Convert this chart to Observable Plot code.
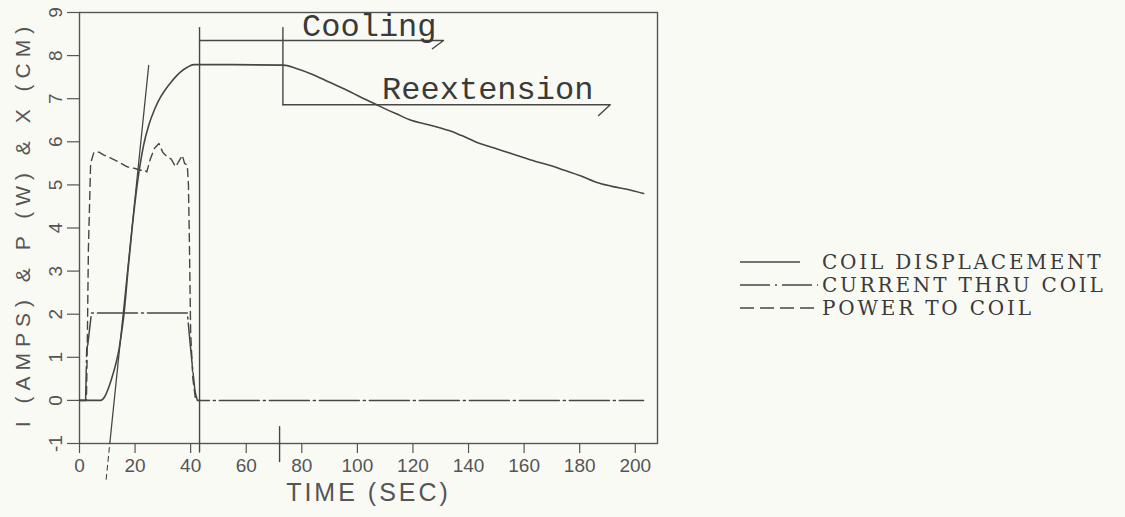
<!DOCTYPE html>
<html>
<head>
<meta charset="utf-8">
<script src="https://cdn.jsdelivr.net/npm/d3@7"></script>
<script src="https://cdn.jsdelivr.net/npm/@observablehq/plot@0.6"></script>
<style>
  body { margin: 0; background: #fafaf5; }
  #wrap { position: relative; width: 1125px; height: 517px; background: #fafaf5; }
  .ytitle { letter-spacing: 6px; }
  .xtitle { letter-spacing: 3px; }
</style>
</head>
<body>
<div id="wrap"></div>
<script>
// Coil displacement X (cm) against time (s)
const dispTime = [0, 7.6, 9, 10.5, 12, 13.2, 14.2, 15.2, 16, 17.5, 19, 21.4, 23, 25, 27, 29.2, 31, 32.8, 34.5, 36.4, 38.8, 41.2, 43, 55, 73.4,
  78, 83.2, 90, 97.7, 103, 108.5, 114, 119.3, 124, 128.9, 133, 137.3, 143.3, 149, 155.3, 160, 164.9, 170, 174.5, 180, 186.6, 192, 197, 203];
const dispValue = [0, 0, 0.08, 0.3, 0.6, 0.88, 1.18, 1.6, 2.0, 3.05, 4.03, 5.3, 5.9, 6.4, 6.75, 7.04, 7.22, 7.37, 7.5, 7.62, 7.73, 7.79, 7.79, 7.79, 7.78,
  7.7, 7.58, 7.38, 7.15, 6.98, 6.81, 6.65, 6.5, 6.42, 6.34, 6.26, 6.15, 5.98, 5.86, 5.73, 5.63, 5.53, 5.44, 5.34, 5.22, 5.05, 4.96, 4.9, 4.8];

// Current through coil I (A)
const currTime = [0, 2.2, 2.6, 3.0, 4.3, 38.8, 39.7, 40.6, 41.6, 42.4, 203];
const currValue = [0, 0, 1.2, 1.3, 2.03, 2.03, 1.4, 0.8, 0.2, 0, 0];

// Power to coil P (W)
const powTime = [0, 2.5, 2.8, 3.2, 4, 5.2, 7, 8.8, 12, 15, 17.2, 20, 22, 23.3, 24.2, 25.5, 27, 28.6, 30, 31.6, 33, 34.6, 35.8, 37, 37.8, 38.8, 39.2, 39.5, 40, 40.8, 41.8, 43];
const powValue = [0, 0, 1.3, 3.5, 5.5, 5.76, 5.76, 5.69, 5.6, 5.5, 5.42, 5.38, 5.34, 5.35, 5.3, 5.6, 5.85, 5.96, 5.75, 5.65, 5.6, 5.42, 5.55, 5.69, 5.5, 5.46, 5.0, 3.88, 1.57, 0.5, 0, 0];

// Tangent drawn to the rising displacement curve
const tangentTime = [9.6, 10.9, 24.9];
const tangentValue = [-1.83, -1, 7.77];

// Phase markers: cooling starts at ~43 s, reextension at ~73 s
const coolingTime = [43.2, 43.2];
const coolingSpan = [-1.2, 8.65];
const coolingArrowTime = [43.2, 131, 127];
const coolingArrowValue = [8.35, 8.35, 8.16];
const reextTime = [73.2, 73.2];
const reextSpan = [8.65, 6.86];
const reextArrowTime = [73.2, 191, 186.8];
const reextArrowValue = [6.86, 6.86, 6.61];
const axisMarkTime = [72, 72];
const axisMarkSpan = [-0.61, -1.42];

const phaseLabels = ["Cooling", "Reextension"];
const phaseLabelTime = [80.1, 108.9];
const phaseLabelValue = [8.7, 7.22];

const xTicks = [0, 20, 40, 60, 80, 100, 120, 140, 160, 180, 200];
const yTicks = [-1, 0, 1, 2, 3, 4, 5, 6, 7, 8, 9];
const xTitle = "TIME (SEC)";
const yTitle = "I (AMPS) & P (W) & X (CM)";
const legendLabels = ["COIL DISPLACEMENT", "CURRENT THRU COIL", "POWER TO COIL"];

const pts = (ts, vs) => ts.map((t, i) => ({t, v: vs[i]}));

const ink = "#464646";
const axisInk = "#555";

const chart = Plot.plot({
  width: 1125,
  height: 517,
  marginLeft: 79,
  marginRight: 468,
  marginTop: 12,
  marginBottom: 74,
  style: {background: "transparent", color: axisInk, fontFamily: "Liberation Sans, sans-serif"},
  x: {domain: [0, 208]},
  y: {domain: [-1, 9]},
  marks: [
    Plot.frame({stroke: axisInk, strokeWidth: 1.4}),
    Plot.axisX({ticks: xTicks, tickSize: 10, tickPadding: 5, fontSize: 19, label: null, stroke: axisInk, strokeWidth: 1.2}),
    Plot.axisY({ticks: yTicks, tickSize: 12, tickFormat: () => "", label: null, stroke: axisInk, strokeWidth: 1.2}),
    Plot.text(yTicks, {x: () => 0, y: d => d, text: d => String(d), rotate: -90, dx: -24, fontSize: 19, fill: axisInk}),
    Plot.text([yTitle], {frameAnchor: "left", textAnchor: "middle", dx: -56, dy: -4, rotate: -90, fontSize: 21, fill: axisInk, className: "ytitle"}),
    Plot.text([xTitle], {frameAnchor: "bottom", dy: 57, fontSize: 25, fill: axisInk, className: "xtitle"}),

    // phase markers
    Plot.line(pts(coolingTime, coolingSpan), {x: "t", y: "v", stroke: ink, strokeWidth: 1.4}),
    Plot.line(pts(coolingArrowTime, coolingArrowValue), {x: "t", y: "v", stroke: ink, strokeWidth: 1.4}),
    Plot.line(pts(reextTime, reextSpan), {x: "t", y: "v", stroke: ink, strokeWidth: 1.4}),
    Plot.line(pts(reextArrowTime, reextArrowValue), {x: "t", y: "v", stroke: ink, strokeWidth: 1.4}),
    Plot.line(pts(axisMarkTime, axisMarkSpan), {x: "t", y: "v", stroke: ink, strokeWidth: 1.4}),
    Plot.text(pts(phaseLabelTime, phaseLabelValue).map((d, i) => ({...d, label: phaseLabels[i]})),
      {x: "t", y: "v", text: "label", textAnchor: "start", fontFamily: "Liberation Mono, monospace", fontSize: 32, fill: "#3a3a3a"}),

    // tangent: solid inside the frame, broken below the axis
    Plot.line(pts(tangentTime, tangentValue).slice(0, 2), {x: "t", y: "v", stroke: ink, strokeWidth: 1.1, strokeDasharray: "5,4"}),
    Plot.line(pts(tangentTime, tangentValue).slice(1), {x: "t", y: "v", stroke: ink, strokeWidth: 1.3}),

    // series
    Plot.line(pts(powTime, powValue), {x: "t", y: "v", stroke: ink, strokeWidth: 1.4, strokeDasharray: "8,5"}),
    Plot.line(pts(currTime, currValue), {x: "t", y: "v", stroke: ink, strokeWidth: 1.5, strokeDasharray: "40,4,2,4"}),
    Plot.line(pts(dispTime, dispValue), {x: "t", y: "v", stroke: ink, strokeWidth: 1.6, curve: "monotone-x"})
  ]
});

const wrap = document.getElementById("wrap");
wrap.appendChild(chart);

// Legend to the right of the plot
const legend = d3.select(wrap).append("svg")
  .attr("width", 387).attr("height", 84)
  .style("position", "absolute").style("left", "738px").style("top", "245px");
const sampleDash = [null, "30,5,2,5", "14,6"];
const sampleEnd = [62, 80, 80];
legendLabels.forEach((label, i) => {
  const y = 17 + i * 23;
  legend.append("line").attr("x1", 2).attr("x2", sampleEnd[i]).attr("y1", y).attr("y2", y)
    .attr("stroke", ink).attr("stroke-width", 1.6).attr("stroke-dasharray", sampleDash[i]);
  legend.append("text").attr("x", 84).attr("y", y).attr("dy", "0.36em")
    .attr("font-family", "DejaVu Serif, serif").attr("font-size", 20).attr("letter-spacing", "2.8px")
    .attr("fill", "#3a3a3a")
    .text(label);
});
</script>
</body>
</html>
